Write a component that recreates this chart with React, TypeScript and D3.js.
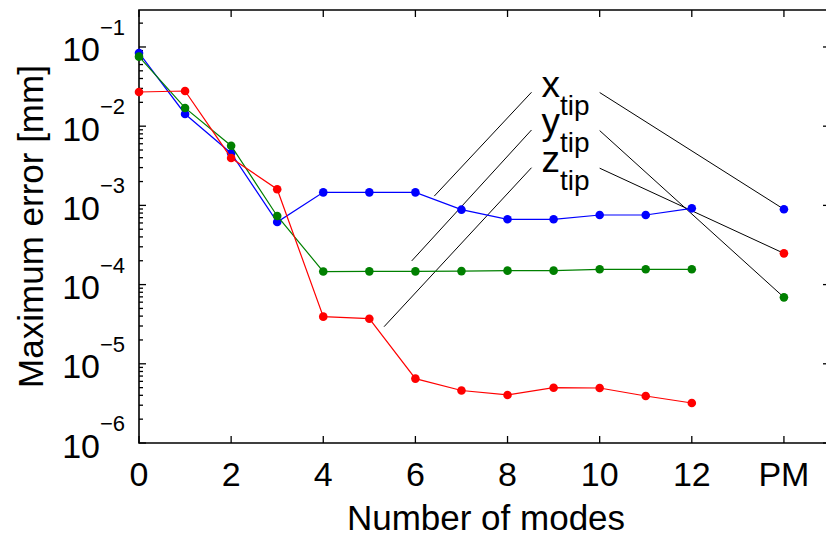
import { useEffect, useRef } from "react";
import * as d3 from "d3";

// number of modes on the x axis, PM sits at x = 14
const modes = [0, 1, 2, 3, 4, 5, 6, 7, 8, 9, 10, 11, 12];
const pmX = 14;

// maximum error [mm] per tip coordinate
const xTip = [0.084, 0.01426, 0.00455, 6.16e-4, 1.46e-3, 1.46e-3, 1.46e-3, 8.83e-4, 6.67e-4, 6.67e-4, 7.56e-4, 7.56e-4, 9.18e-4];
const yTip = [0.0755, 0.017, 0.00567, 7.35e-4, 1.46e-4, 1.47e-4, 1.47e-4, 1.48e-4, 1.5e-4, 1.5e-4, 1.56e-4, 1.56e-4, 1.56e-4];
const zTip = [0.027, 0.0278, 0.00397, 1.6e-3, 3.94e-5, 3.71e-5, 6.5e-6, 4.6e-6, 4.04e-6, 4.99e-6, 4.95e-6, 3.92e-6, 3.2e-6];
const pmValues = [8.93e-4, 6.9e-5, 2.48e-4];

const seriesNames = ["x", "y", "z"];
const seriesColors = ["#0000ff", "#008000", "#ff0000"];

const xTicks = [0, 2, 4, 6, 8, 10, 12, 14];
const xTickLabels = ["0", "2", "4", "6", "8", "10", "12", "PM"];
const yExponents = [-1, -2, -3, -4, -5, -6];

// label callout lines (data coords): left start, left end, right start
const calloutLeftStart = [[8.52, 0.0268], [8.52, 0.00895], [8.52, 0.00299]];
const calloutLeftEnd = [[6.41, 1.31e-3], [5.92, 1.99e-4], [5.32, 2.94e-5]];
const calloutRightStart = [[10.0, 0.0266], [10.0, 0.0088], [10.0, 0.00295]];

const W = 826;
const H = 536;
const FONT = "'Liberation Sans', Arial, Helvetica, sans-serif";

const App = () => {
  const svgRef = useRef(null);

  useEffect(() => {
    const svg = d3.select(svgRef.current);
    svg.selectAll("*").remove();

    const left = 139;
    const right = 830;
    const top = 10;
    const bottom = 443;

    const x = d3.scaleLinear().domain([0, 15]).range([left, right]);
    const y = d3.scaleLog().domain([1e-6, 0.293]).range([bottom, top]);

    const g = svg.append("g");

    // box
    g.append("path")
      .attr("d", `M${left},${bottom}H${right}V${top}H${left}Z`)
      .attr("fill", "none")
      .attr("stroke", "#000")
      .attr("stroke-width", 1.6);

    // x ticks, bottom and top
    xTicks.forEach((t, i) => {
      g.append("line")
        .attr("x1", x(t)).attr("x2", x(t))
        .attr("y1", bottom).attr("y2", bottom - 7)
        .attr("stroke", "#000").attr("stroke-width", 1.3);
      g.append("line")
        .attr("x1", x(t)).attr("x2", x(t))
        .attr("y1", top).attr("y2", top + 7)
        .attr("stroke", "#000").attr("stroke-width", 1.3);
      g.append("text")
        .attr("x", x(t))
        .attr("y", 486)
        .attr("text-anchor", "middle")
        .attr("font-family", FONT)
        .attr("font-size", 34)
        .text(xTickLabels[i]);
    });

    // y ticks, majors + minors, on both sides
    const minors = [];
    for (let e = -6; e <= -1; e++) {
      for (let m = 2; m <= 9; m++) {
        const v = m * Math.pow(10, e);
        if (v <= 0.293) minors.push(v);
      }
    }
    minors.forEach((v) => {
      [[left, left + 4], [right, right - 4]].forEach(([a, b]) => {
        g.append("line")
          .attr("x1", a).attr("x2", b)
          .attr("y1", y(v)).attr("y2", y(v))
          .attr("stroke", "#000").attr("stroke-width", 1.3);
      });
    });
    yExponents.forEach((e) => {
      const yy = y(Math.pow(10, e));
      [[left, left + 7], [right, right - 7]].forEach(([a, b]) => {
        g.append("line")
          .attr("x1", a).attr("x2", b)
          .attr("y1", yy).attr("y2", yy)
          .attr("stroke", "#000").attr("stroke-width", 1.3);
      });
      g.append("text")
        .attr("x", 100)
        .attr("y", yy + 14.5)
        .attr("text-anchor", "end")
        .attr("font-family", FONT)
        .attr("font-size", 34)
        .text("10");
      g.append("text")
        .attr("x", 100)
        .attr("y", yy - 12)
        .attr("text-anchor", "start")
        .attr("font-family", FONT)
        .attr("font-size", 22)
        .text("\u2212" + Math.abs(e));
    });

    // axis labels
    g.append("text")
      .attr("x", 486)
      .attr("y", 530)
      .attr("text-anchor", "middle")
      .attr("font-family", FONT)
      .attr("font-size", 35)
      .text("Number of modes");
    g.append("text")
      .attr("transform", `translate(43, ${(top + bottom) / 2}) rotate(-90)`)
      .attr("text-anchor", "middle")
      .attr("font-family", FONT)
      .attr("font-size", 35)
      .text("Maximum error [mm]");

    // callout lines to the labels and to the PM points
    seriesNames.forEach((name, i) => {
      const ls = calloutLeftStart[i];
      const le = calloutLeftEnd[i];
      const rs = calloutRightStart[i];
      g.append("line")
        .attr("x1", x(ls[0])).attr("y1", y(ls[1]))
        .attr("x2", x(le[0])).attr("y2", y(le[1]))
        .attr("stroke", "#000").attr("stroke-width", 1);
      g.append("line")
        .attr("x1", x(rs[0])).attr("y1", y(rs[1]))
        .attr("x2", x(pmX)).attr("y2", y(pmValues[i]))
        .attr("stroke", "#000").attr("stroke-width", 1);
      const tx = g.append("text")
        .attr("x", x(ls[0]) + 10)
        .attr("y", y(ls[1]) + 4.5)
        .attr("font-family", FONT)
        .attr("font-size", 37);
      tx.append("tspan").text(name);
      tx.append("tspan")
        .attr("dy", 18)
        .attr("font-size", 28)
        .text("tip");
    });

    // series
    const data = [xTip, yTip, zTip];
    const line = d3.line()
      .x((d) => x(d[0]))
      .y((d) => y(d[1]));

    data.forEach((vals, i) => {
      const pts = modes.map((m, j) => [m, vals[j]]);
      g.append("path")
        .attr("d", line(pts))
        .attr("fill", "none")
        .attr("stroke", seriesColors[i])
        .attr("stroke-width", 1.2);
      g.selectAll(null)
        .data(pts.concat([[pmX, pmValues[i]]]))
        .enter()
        .append("circle")
        .attr("cx", (d) => x(d[0]))
        .attr("cy", (d) => y(d[1]))
        .attr("r", 4.3)
        .attr("fill", seriesColors[i]);
    });
  }, []);

  return (
    <svg
      ref={svgRef}
      width={W}
      height={H}
      style={{ position: "absolute", left: 0, top: 0, background: "#fff" }}
    ></svg>
  );
};

export default App;
